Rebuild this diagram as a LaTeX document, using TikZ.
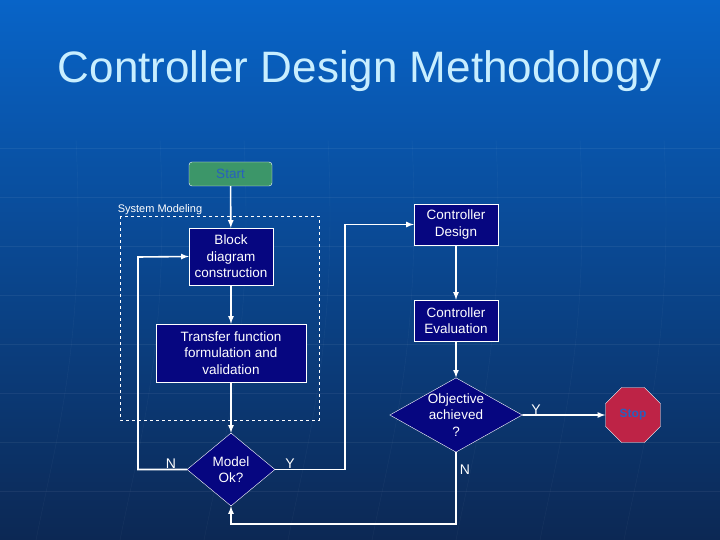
\documentclass[tikz,border=0pt]{standalone}
\usepackage{fontspec}
\setmainfont{Liberation Sans}
\usetikzlibrary{shapes.geometric}
\definecolor{bgtop}{RGB}{8,100,200}
\definecolor{bgmid}{RGB}{10,72,150}
\definecolor{bgbot}{RGB}{12,40,84}
\definecolor{boxblue}{RGB}{6,6,128}
\definecolor{titlecyan}{RGB}{200,238,255}
\definecolor{startgreen}{RGB}{60,150,105}
\definecolor{stopred}{RGB}{190,35,70}
\definecolor{faintblue}{RGB}{40,96,190}
\tikzset{
  block/.style={draw=white, fill=boxblue, text=white, align=center, inner sep=2pt,
    font=\fontsize{13.5}{16.5}\selectfont},
  decision/.style={diamond, draw=white, fill=boxblue, text=white, align=center, inner sep=0pt,
    font=\fontsize{13.5}{16.5}\selectfont},
  flow/.style={draw=white, line width=1.6pt, ->},
  lbl/.style={text=white, font=\fontsize{14}{16}\selectfont}
}
\begin{document}
\begin{tikzpicture}[>=latex, x=1pt, y=-1pt]
\useasboundingbox (0,0) rectangle (720,540);
\shade [top color=bgtop, middle color=bgmid, bottom color=bgbot] (0,0) rectangle (720,540);
\foreach \y in {148,197,...,540}
{
    \draw [white, opacity=.06] (0,\y)--(720,\y);
}
\foreach \x in {76,160,...,720}
{
    \draw [white, opacity=.05] (\x,140) .. controls (\x+10,340) and (\x-20,440) .. (\x-40,540);
}
% title
\node (title) [text=titlecyan, font=\fontsize{44}{48}\selectfont] at (360,71) {Controller Design Methodology};

% system modeling
\node (start) at (230.5,174) [rounded corners=3pt, draw=white, fill=startgreen, text=faintblue,
    minimum width=83, minimum height=24, font=\fontsize{13.5}{16}\selectfont] {Start};
\draw [white, dashed] (120,216) rectangle (319,420);
\node (sysmod) at (160,210) [text=white, font=\fontsize{11}{12}\selectfont] {System Modeling};
\node (blockdiag) at (231,256.5) [block, minimum width=84, minimum height=57] {Block\\diagram\\construction};
\node (transfer) at (231,353) [block, minimum width=150, minimum height=58] {Transfer function\\formulation and\\validation};
\node (modelok) at (231,469.5) [decision, aspect=1.2, minimum width=88, minimum height=73] {Model\\Ok?};

% controller
\node (design) at (456,224.5) [block, minimum width=84, minimum height=41] {Controller\\Design};
\node (evaluation) at (456,320.5) [block, minimum width=84, minimum height=41] {Controller\\Evaluation};
\node (objective) at (456,415) [decision, aspect=1.78, minimum width=132, minimum height=74] {Objective\\achieved\\?};
\node (stop) at (633,415) [regular polygon, regular polygon sides=8, draw=white, fill=stopred,
    minimum size=59.5, inner sep=0pt, text=faintblue, font=\bfseries\fontsize{12}{14}\selectfont] {Stop};

\draw [flow] (start)--(blockdiag);
\draw [flow] (blockdiag)--(transfer);
\draw [flow] (transfer)--(modelok);
\draw [flow] (modelok.west)--(138,469.5)--(138,257)--(blockdiag.west);
\draw [flow] (modelok.east)--(345,469.5)--(345,224.5)--(design.west);
\draw [flow] (design)--(evaluation);
\draw [flow] (evaluation)--(objective);
\draw [flow] (objective.east)--(stop.west);
\draw [flow] (objective.south)--(456,524)--(231,524)--(modelok.south);

\node (n1) at (171,464) [lbl] {N};
\node (y1) at (290,464) [lbl] {Y};
\node (y2) at (536,410) [lbl] {Y};
\node (n2) at (465,470) [lbl] {N};
\end{tikzpicture}
\end{document}
